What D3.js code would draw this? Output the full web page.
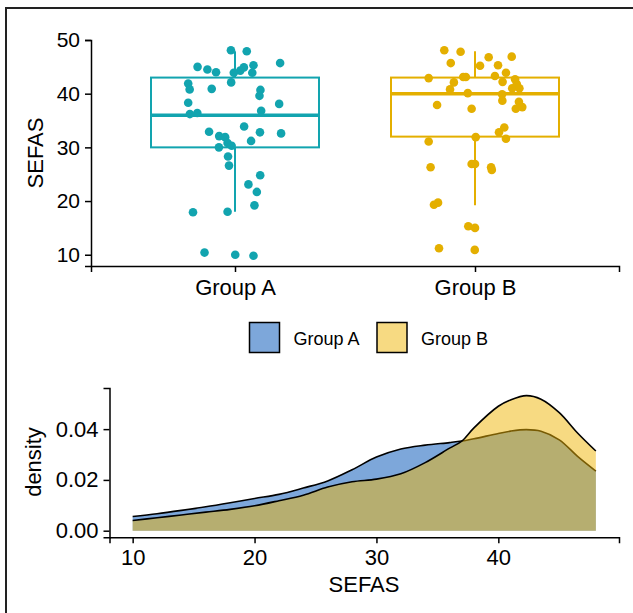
<!DOCTYPE html>
<html>
<head>
<meta charset="utf-8">
<script src="https://cdn.jsdelivr.net/npm/d3@7"></script>
<style>
  body { margin: 0; background: #fff; }
  svg { display: block; font-family: "Liberation Sans", Arial, sans-serif; }
  .axis path, .axis line { stroke: #000; stroke-width: 1.5px; }
  .axis text { fill: #000; }
</style>
</head>
<body>
<svg width="633" height="613"></svg>
<script>
// groups
var groups = ["Group A", "Group B"];

// SEFAS values of the jittered points
var sefasA = [48.1, 47.9, 45.0, 44.5, 44.0, 45.7, 45.3, 44.9, 44.3, 43.9, 43.9, 42.1, 41.9, 40.8, 40.9,
              40.7, 39.6, 38.3, 38.1, 36.8, 36.2, 36.4, 32.9, 33.9, 32.8, 32.6, 32.1, 31.9, 31.2, 30.8,
              30.3, 30.0, 28.3, 26.6, 24.8, 23.1, 21.7, 19.2, 17.9, 18.0, 10.4, 10.0, 9.8];
var jitterA = [-0.017, 0.049, -0.156, -0.115, -0.079, 0.188, 0.077, 0.037, 0.022, -0.005, 0.072, -0.016,
               -0.195, -0.189, -0.097, 0.106, 0.102, -0.195, 0.184, 0.109, -0.188, -0.157, -0.108, 0.038,
               0.104, 0.192, -0.066, -0.041, 0.067, -0.031, -0.014, -0.067, -0.029, -0.025, 0.105, 0.056,
               0.091, 0.081, -0.175, -0.031, -0.127, 0.001, 0.077];

var sefasB = [48.1, 47.8, 45.7, 46.8, 46.9, 45.2, 45.3, 43.9, 43.3, 42.9, 43.1, 43.1, 42.1, 42.2, 42.7,
              41.8, 41.0, 41.0, 40.8, 40.1, 39.9, 38.7, 38.5, 37.9, 37.2, 37.2, 37.5, 33.7, 32.8, 31.6,
              31.9, 31.1, 26.3, 26.9, 26.9, 26.3, 25.8, 19.3, 19.7, 15.3, 15.0, 11.2, 10.9];
var jitterB = [-0.128, -0.060, -0.101, 0.057, 0.153, 0.021, 0.096, 0.129, 0.083, -0.193, -0.049, -0.038,
               -0.088, 0.115, 0.167, 0.174, 0.155, 0.185, -0.104, -0.030, 0.113, 0.114, 0.183, -0.158,
               -0.014, 0.170, 0.197, 0.122, 0.100, 0.129, 0.003, -0.193, -0.185, -0.014, 0.000, 0.067,
               0.070, -0.171, -0.154, -0.028, 0.000, -0.150, -0.001];

// box stats: lower whisker, Q1, median, Q3, upper whisker
var boxA = [18, 30, 36, 43, 47.9];
var boxB = [19.2, 32, 40, 43, 47.9];

// density curves
var densX = [10, 12, 14, 16, 18, 20, 22, 24, 26, 28, 30, 32, 34, 36, 37, 38, 40, 41, 42.3, 43.5, 45, 46.5, 48];
var densA = [0.0056, 0.0067, 0.0080, 0.0094, 0.0110, 0.0127, 0.0143, 0.0168, 0.0196, 0.0240, 0.0290,
             0.0322, 0.0337, 0.0347, 0.0353, 0.0362, 0.0383, 0.0392, 0.0398, 0.0392, 0.0358, 0.0293, 0.0235];
var densB = [0.0040, 0.0051, 0.0062, 0.0073, 0.0084, 0.0098, 0.0118, 0.0140, 0.0172, 0.0193, 0.0203,
             0.0224, 0.0268, 0.0325, 0.0353, 0.0405, 0.0490, 0.0515, 0.0532, 0.0518, 0.0465, 0.0385, 0.0314];

var yTicksTop = [10, 20, 30, 40, 50];
var yTicksDens = [0, 0.02, 0.04];
var xTicksDens = [10, 20, 30, 40];

var dotColors = ["#12A4AF", "#E4AF00"];

var svg = d3.select("svg");

svg.append("rect")
    .attr("x", 6).attr("y", 8)
    .attr("width", 660).attr("height", 640)
    .attr("fill", "none")
    .attr("stroke", "#222")
    .attr("stroke-width", 2);

// ---------- top: box plot with jitter ----------
var x = d3.scaleLinear().domain([0.4, 2.6]).range([91, 619]);
var y = d3.scaleLinear().domain([7.9, 50]).range([266, 40]);
var step = x(2) - x(1);

svg.append("g")
    .attr("class", "axis")
    .attr("transform", "translate(0,266)")
    .call(d3.axisBottom(x).tickValues([1, 2]).tickFormat(function(d) { return groups[d - 1]; })
        .tickSizeOuter(0).tickSize(6).tickPadding(7))
    .selectAll("text").style("font-size", "22px");

svg.append("g")
    .attr("class", "axis")
    .attr("transform", "translate(91,0)")
    .call(d3.axisLeft(y).tickValues(yTicksTop).tickSizeOuter(0).tickSize(6).tickPadding(5))
    .selectAll("text").style("font-size", "21px");

svg.append("text")
    .attr("transform", "translate(43,153)rotate(-90)")
    .attr("text-anchor", "middle")
    .style("font-size", "22px")
    .text("SEFAS");

var boxes = [boxA, boxB];
var sefas = [sefasA, sefasB];
var jitter = [jitterA, jitterB];

boxes.forEach(function(b, i) {
    var cx = x(i + 1), half = step * 0.35, col = dotColors[i];
    var g = svg.append("g").attr("stroke", col).attr("fill", "none");
    g.append("line").attr("x1", cx).attr("x2", cx).attr("y1", y(b[3])).attr("y2", y(b[4])).attr("stroke-width", 2);
    g.append("line").attr("x1", cx).attr("x2", cx).attr("y1", y(b[1])).attr("y2", y(b[0])).attr("stroke-width", 2);
    g.append("rect")
        .attr("x", cx - half).attr("width", half * 2)
        .attr("y", y(b[3])).attr("height", y(b[1]) - y(b[3]))
        .attr("stroke-width", 2);
    g.append("line").attr("x1", cx - half).attr("x2", cx + half)
        .attr("y1", y(b[2])).attr("y2", y(b[2])).attr("stroke-width", 3.5);
});

sefas.forEach(function(vals, i) {
    svg.append("g")
        .selectAll("circle")
        .data(vals)
        .enter().append("circle")
        .attr("cx", function(d, j) { return x(i + 1 + jitter[i][j]); })
        .attr("cy", function(d) { return y(d); })
        .attr("r", 4.3)
        .attr("fill", dotColors[i]);
});

// ---------- legend ----------
var legendFill = ["#7DA7DA", "#F7DA82"];
var legX = [249.5, 377];
groups.forEach(function(name, i) {
    svg.append("rect")
        .attr("x", legX[i]).attr("y", 322.5)
        .attr("width", 30).attr("height", 30)
        .attr("fill", legendFill[i])
        .attr("stroke", "#000").attr("stroke-width", 1.5);
    svg.append("text")
        .attr("x", legX[i] + 44).attr("y", 345)
        .style("font-size", "18px")
        .text(name);
});

// ---------- bottom: density ----------
var xd = d3.scaleLinear().domain([8.1, 49.9]).range([109.5, 619]);
var yd = d3.scaleLinear().domain([-0.0026, 0.0562]).range([537.3, 388]);

var area = d3.area()
    .x(function(d) { return xd(d[0]); })
    .y0(yd(0))
    .y1(function(d) { return yd(d[1]); })
    .curve(d3.curveCatmullRom.alpha(0.5));
var line = d3.line()
    .x(function(d) { return xd(d[0]); })
    .y(function(d) { return yd(d[1]); })
    .curve(d3.curveCatmullRom.alpha(0.5));

var ptsA = densX.map(function(v, i) { return [v, densA[i]]; });
var ptsB = densX.map(function(v, i) { return [v, densB[i]]; });

svg.append("path").datum(ptsA).attr("d", area).attr("fill", "#7DA7DA");
svg.append("path").datum(ptsA).attr("d", line).attr("fill", "none").attr("stroke", "#000").attr("stroke-width", 1.6);
svg.append("path").datum(ptsB).attr("d", area).attr("fill", "#EFB606").attr("fill-opacity", 0.5);
svg.append("path").datum(ptsB).attr("d", line).attr("fill", "none").attr("stroke", "#000").attr("stroke-width", 1.6);

svg.append("g")
    .attr("class", "axis")
    .attr("transform", "translate(0,537.3)")
    .call(d3.axisBottom(xd).tickValues(xTicksDens).tickSizeOuter(0).tickSize(6).tickPadding(6))
    .selectAll("text").style("font-size", "22px");

svg.append("g")
    .attr("class", "axis")
    .attr("transform", "translate(109.5,0)")
    .call(d3.axisLeft(yd).tickValues(yTicksDens).tickFormat(d3.format(".2f"))
        .tickSizeOuter(0).tickSize(6).tickPadding(5))
    .selectAll("text").style("font-size", "22px");

svg.append("text")
    .attr("x", 364).attr("y", 592)
    .attr("text-anchor", "middle")
    .style("font-size", "22px")
    .text("SEFAS");

svg.append("text")
    .attr("transform", "translate(41,462)rotate(-90)")
    .attr("text-anchor", "middle")
    .style("font-size", "22px")
    .text("density");
</script>
</body>
</html>
